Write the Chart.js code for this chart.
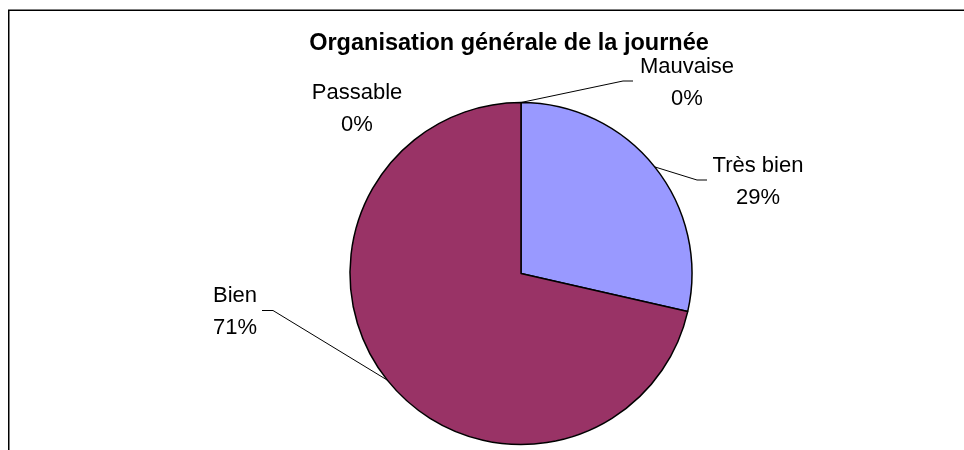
<!DOCTYPE html>
<html>
<head>
<meta charset="utf-8">
<script src="https://cdn.jsdelivr.net/npm/chart.js@4"></script>
<style>
  html, body { margin: 0; padding: 0; background: #fff; }
  canvas { display: block; }
</style>
</head>
<body>
<canvas id="pie" width="964" height="450"></canvas>
<script>
const chartTitle = 'Organisation générale de la journée';
const categories = ['Très bien', 'Bien', 'Passable', 'Mauvaise'];
const counts = [2, 5, 0, 0];
const sliceColors = ['#9999FF', '#993366', '#FFFFCC', '#CCFFFF'];

// label placement (centre x, first baseline) and leader bend, per category
const labelSpots = [
    { x: 758, y: 172, elbow: [697, 180], end: 707 },
    { x: 235, y: 302, elbow: [273, 310.5], end: 262 },
    { x: 357, y: 99, elbow: null },
    { x: 687, y: 73, elbow: [623, 81], end: 633 }
];

const FONT = '"Liberation Sans", Arial, sans-serif';

const excelLook = {
    id: 'excelLook',
    beforeDraw(chart) {
        const ctx = chart.ctx;
        ctx.save();
        ctx.fillStyle = '#fff';
        ctx.fillRect(0, 0, chart.width, chart.height);
        ctx.restore();
    },
    afterDraw(chart) {
        const ctx = chart.ctx;
        const meta = chart.getDatasetMeta(0);
        const total = counts.reduce((a, b) => a + b, 0);

        ctx.save();
        // frame
        ctx.strokeStyle = '#000';
        ctx.lineWidth = 1.5;
        ctx.beginPath();
        ctx.moveTo(8.75, chart.height);
        ctx.lineTo(8.75, 10.25);
        ctx.lineTo(chart.width, 10.25);
        ctx.stroke();

        // title
        ctx.fillStyle = '#000';
        ctx.textAlign = 'center';
        ctx.textBaseline = 'alphabetic';
        ctx.font = 'bold 23.5px ' + FONT;
        ctx.fillText(chartTitle, 509, 50);

        // labels + leader lines
        ctx.font = '22px ' + FONT;
        ctx.lineWidth = 1;
        meta.data.forEach((arc, i) => {
            const spot = labelSpots[i];
            const p = arc.getProps(['x', 'y', 'startAngle', 'endAngle', 'outerRadius'], true);
            const mid = (p.startAngle + p.endAngle) / 2;
            const ax = p.x + Math.cos(mid) * p.outerRadius;
            const ay = p.y + Math.sin(mid) * p.outerRadius;
            if (spot.elbow) {
                ctx.beginPath();
                ctx.moveTo(ax, ay);
                ctx.lineTo(spot.elbow[0], spot.elbow[1]);
                ctx.lineTo(spot.end, spot.elbow[1]);
                ctx.stroke();
            }
            const pct = Math.round(counts[i] / total * 100) + '%';
            ctx.fillText(categories[i], spot.x, spot.y);
            ctx.fillText(pct, spot.x, spot.y + 31.7);
        });
        ctx.restore();
    }
};

new Chart(document.getElementById('pie'), {
    type: 'pie',
    data: {
        labels: categories,
        datasets: [{
            data: counts,
            backgroundColor: sliceColors,
            borderColor: '#000',
            borderWidth: 1.5
        }]
    },
    options: {
        responsive: false,
        animation: false,
        layout: {
            padding: { left: 200, right: 122, top: 101.75, bottom: 4.75 }
        },
        plugins: {
            legend: { display: false },
            title: { display: false },
            tooltip: { enabled: false }
        }
    },
    plugins: [excelLook]
});
</script>
</body>
</html>
